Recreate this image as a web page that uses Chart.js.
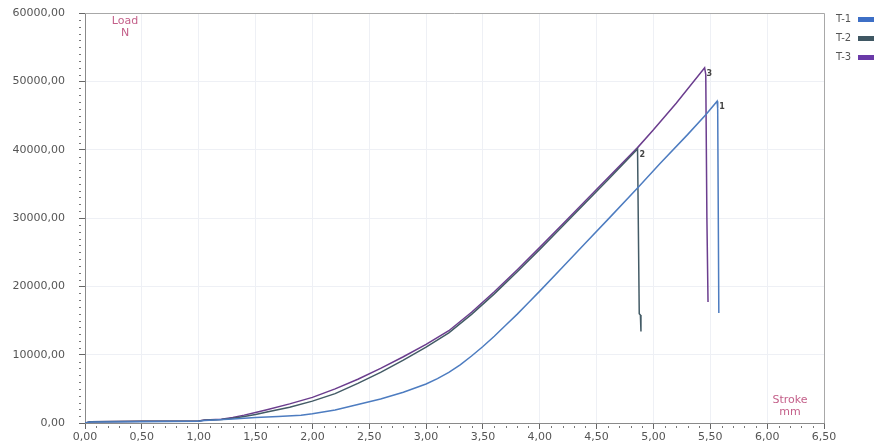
<!DOCTYPE html>
<html>
<head>
<meta charset="utf-8">
<script src="https://cdn.jsdelivr.net/npm/chart.js@4/dist/chart.umd.min.js"></script>
<style>
  html, body { margin: 0; padding: 0; background: #fff; }
  #wrap { width: 874px; height: 448px; }
</style>
</head>
<body>
<div id="wrap"><canvas id="myChart" width="874" height="448"></canvas></div>
<script>
// series: stroke (mm) and load (N)
const seriesNames = ['T-1', 'T-2', 'T-3'];
const peakTags = ['1', '2', '3'];

const stroke1 = [0, 0.05, 0.5, 1.0, 1.05, 1.3, 1.5, 1.7, 1.9, 2.0, 2.2, 2.4, 2.6, 2.8, 3.0, 3.1, 3.2, 3.3, 3.4, 3.5, 3.6, 3.7, 3.8, 3.9, 4.0, 4.2, 4.4, 4.6, 4.86, 5.06, 5.3, 5.46, 5.56, 5.565, 5.575];
const load1   = [0, 150, 200, 250, 350, 600, 800, 950, 1150, 1350, 1900, 2700, 3500, 4500, 5700, 6500, 7400, 8500, 9800, 11200, 12700, 14300, 15900, 17600, 19300, 22800, 26300, 29800, 34400, 38000, 42200, 45100, 47100, 46000, 16100];

const stroke2 = [0, 0.05, 0.5, 1.0, 1.05, 1.1, 1.2, 1.3, 1.4, 1.5, 1.6, 1.8, 2.0, 2.2, 2.4, 2.6, 2.8, 3.0, 3.2, 3.4, 3.6, 3.8, 4.0, 4.2, 4.4, 4.6, 4.86, 4.875, 4.885, 4.89];
const load2   = [0, 200, 250, 300, 420, 450, 520, 700, 950, 1250, 1600, 2300, 3200, 4300, 5800, 7400, 9200, 11100, 13200, 15900, 18900, 22100, 25400, 28800, 32200, 35600, 40100, 16000, 15800, 13400];

const stroke3 = [0, 0.05, 0.5, 1.0, 1.05, 1.1, 1.2, 1.3, 1.4, 1.5, 1.6, 1.8, 2.0, 2.2, 2.4, 2.6, 2.8, 3.0, 3.2, 3.4, 3.6, 3.8, 4.0, 4.2, 4.4, 4.6, 4.86, 5.0, 5.2, 5.45, 5.46, 5.47, 5.48];
const load3   = [0, 200, 250, 300, 450, 480, 560, 800, 1150, 1550, 1950, 2800, 3750, 5000, 6400, 8000, 9700, 11500, 13500, 16200, 19200, 22400, 25700, 29100, 32500, 35900, 40300, 42900, 46800, 52000, 51000, 30000, 17700];

const lineColors = ['#4d7cc0', '#435b66', '#6b3d8e'];
const boxColors = ['#3d6fc6', '#3f5763', '#6a3aa8'];

const xTitle = ['Stroke', 'mm'];
const yTitle = ['Load', 'N'];

function pts(xs, ys) {
  return xs.map((x, i) => ({ x: x, y: ys[i] }));
}
function comma(v) {
  return Number(v).toFixed(2).replace('.', ',');
}

const strokes = [stroke1, stroke2, stroke3];
const loads = [load1, load2, load3];

const FONT = 'DejaVu Sans';

const extras = {
  id: 'extras',
  afterDraw(chart) {
    const c = chart.ctx;
    const a = chart.chartArea;
    const xs = chart.scales.x, ys = chart.scales.y;
    c.save();
    // frame on top and right
    c.strokeStyle = '#a8a8a8';
    c.lineWidth = 1;
    c.beginPath();
    c.moveTo(a.left, a.top + 0.5);
    c.lineTo(a.right + 0.5, a.top + 0.5);
    c.lineTo(a.right + 0.5, a.bottom);
    c.stroke();

    // minor ticks
    c.strokeStyle = '#777';
    c.beginPath();
    for (let i = 1; i < 65; i++) {
      if (i % 5 === 0) continue;
      const px = Math.round(xs.getPixelForValue(i / 10)) + 0.5;
      c.moveTo(px, a.bottom + 3);
      c.lineTo(px, a.bottom + 5);
    }
    for (let i = 1; i < 60; i++) {
      if (i % 10 === 0) continue;
      const py = Math.round(ys.getPixelForValue(i * 1000)) + 0.5;
      c.moveTo(a.left - 6, py);
      c.lineTo(a.left - 4, py);
    }
    c.stroke();

    // axis titles
    c.fillStyle = '#c4608a';
    c.font = '11px ' + FONT;
    c.textAlign = 'center';
    c.textBaseline = 'middle';
    c.fillText(yTitle[0], a.left + 40, a.top + 8);
    c.fillText(yTitle[1], a.left + 40, a.top + 20);
    c.fillText(xTitle[0], a.right - 34, a.bottom - 23);
    c.fillText(xTitle[1], a.right - 34, a.bottom - 11);

    // peak tags
    c.fillStyle = '#444';
    c.font = 'bold 8px ' + FONT;
    c.textAlign = 'left';
    chart.data.datasets.forEach((ds, i) => {
      let best = ds.data[0];
      ds.data.forEach(p => { if (p.y > best.y) best = p; });
      const px = xs.getPixelForValue(best.x);
      const py = ys.getPixelForValue(best.y);
      c.fillText(peakTags[i], px + 2, py + 6);
    });

    // legend
    c.font = '10px ' + FONT;
    c.textBaseline = 'middle';
    chart.data.datasets.forEach((ds, i) => {
      const y = 19 + i * 19;
      c.fillStyle = '#555';
      c.fillText(ds.label, 836, y);
      c.fillStyle = boxColors[i];
      c.fillRect(858, y - 2, 16, 5);
    });
    c.restore();
  }
};

const ctx = document.getElementById('myChart');

new Chart(ctx, {
  type: 'scatter',
  data: {
    datasets: seriesNames.map((name, i) => ({
      label: name,
      data: pts(strokes[i], loads[i]),
      showLine: true,
      borderColor: lineColors[i],
      backgroundColor: lineColors[i],
      borderWidth: 1.5,
      pointRadius: 0,
      tension: 0
    }))
  },
  options: {
    responsive: false,
    animation: false,
    layout: { padding: { left: 0, top: 13, right: 50, bottom: 0 } },
    plugins: {
      legend: { display: false },
      tooltip: { enabled: false }
    },
    scales: {
      x: {
        type: 'linear',
        min: 0,
        max: 6.5,
        afterFit: s => { s.height = 25; },
        ticks: {
          stepSize: 0.5,
          color: '#555',
          font: { family: FONT, size: 11 },
          padding: 2,
          maxRotation: 0,
          callback: v => comma(v)
        },
        grid: { color: '#eef0f5', tickColor: '#666', tickLength: 6 },
        border: { color: '#8a8a8a' }
      },
      y: {
        min: 0,
        max: 60000,
        afterFit: s => { s.width = 85; s.paddingTop = 6; s.paddingBottom = 6; },
        ticks: {
          stepSize: 10000,
          color: '#555',
          font: { family: FONT, size: 11 },
          padding: 14,
          callback: v => comma(v)
        },
        grid: { color: '#eef0f5', tickColor: '#666', tickLength: 6 },
        border: { color: '#8a8a8a' }
      }
    }
  },
  plugins: [extras]
});
</script>
</body>
</html>
